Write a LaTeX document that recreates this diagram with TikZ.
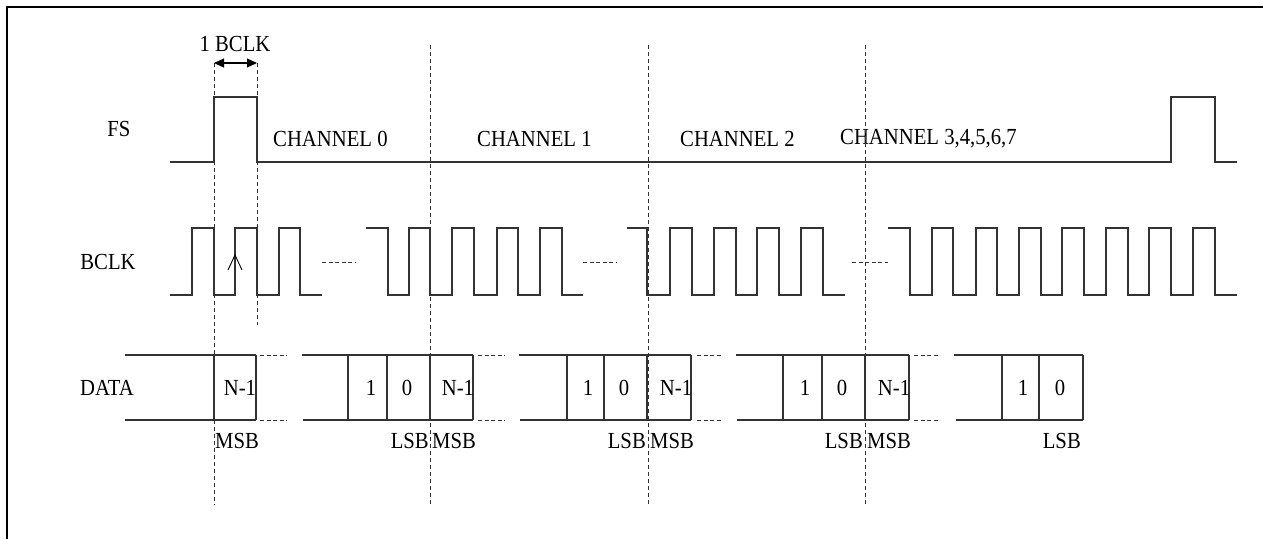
\documentclass[tikz,border=0pt]{standalone}
\usepackage{fontspec}
\setmainfont{Liberation Serif}[FakeStretch=0.9]
\usetikzlibrary{arrows.meta}
\begin{document}
\begin{tikzpicture}[x=1pt,y=-1pt,
  sig/.style={line width=1.1pt,draw=black!80},
  guide/.style={line width=0.9pt,draw=black!80,dash pattern=on 4pt off 3pt},
  gap/.style={line width=0.9pt,draw=black!80,dash pattern=on 4pt off 2.5pt},
  lbl/.style={inner sep=0pt,font=\fontsize{23}{27}\selectfont},
  frame/.style={line width=2pt,draw=black},
  tip/.style={Triangle[length=11pt,width=10pt]}]
\useasboundingbox (0,0) rectangle (1263,539);
% frame
\draw[frame] (1263,6.5) -- (6.5,6.5) -- (6.5,539);

% row labels
\node[lbl] (fsl) at (119,129) {FS};
\node[lbl] (bclkl) at (108,262) {BCLK};
\node[lbl] (datal) at (107,388) {DATA};

% FS waveform
\draw[sig] (170,162) -- (214,162) -- (214,97) -- (257,97) -- (257,162) -- (1171,162) -- (1171,97) -- (1215,97) -- (1215,162) -- (1237,162);

% channel labels
\node[lbl,anchor=west] (ch0) at (273,139) {CHANNEL 0};
\node[lbl,anchor=west] (ch1) at (477,139) {CHANNEL 1};
\node[lbl,anchor=west] (ch2) at (680,139) {CHANNEL 2};
\node[lbl,anchor=west] (ch3) at (840,139) {CHANNEL 3,4,5,6,7};

% 1 BCLK
\coordinate (ba) at (214,63);
\coordinate (bb) at (257,63);
\draw[line width=1.1pt,{Triangle[length=10pt,width=9pt]}-{Triangle[length=10pt,width=9pt]}] (ba) -- (bb);
\node[lbl] (onebclk) at (235,44) {1 BCLK};

% BCLK waveform
\def\H{228}\def\L{295}
\draw[sig] (170,\L) -| (192,\H) -| (214,\L) -| (235,\H) -| (257,\L) -| (279,\H) -| (300,\L) -- (322,\L);
\draw[sig] (366,\H) -| (388,\L) -| (409,\H) -| (430,\L) -| (452,\H) -| (474,\L) -| (497,\H) -| (518,\L) -| (540,\H) -| (562,\L) -- (583,\L);
\draw[sig] (627,\H) -| (647,\L) -| (670,\H) -| (692,\L) -| (714,\H) -| (736,\L) -| (757,\H) -| (779,\L) -| (801,\H) -| (823,\L) -- (845,\L);
\draw[sig] (888,\H) -| (910,\L) -| (932,\H) -| (953,\L) -| (976,\H) -| (997,\L) -| (1019,\H) -| (1041,\L) -| (1062,\H) -| (1084,\L) -| (1106,\H) -| (1128,\L) -| (1149,\H) -| (1171,\L) -| (1193,\H) -| (1215,\L) -- (1237,\L);
\draw[gap] (322,262) -- (355,262);
\draw[gap] (583,262) -- (616,262);
\draw[gap] (852,262) -- (888,262);
% rising-edge mark
\draw[line width=0.9pt] (228,270) -- (235,255) -- (242,270);

% DATA
\def\T{355}\def\B{420}
% block 1
\draw[sig] (125,\T) -- (256,\T) (125,\B) -- (256,\B) (214,\T) -- (214,\B) (256,\T) -- (256,\B);
\node[lbl] (n1a) at (240,388) {N-1};
\draw[gap] (260,\T) -- (287,\T) (260,\B) -- (287,\B);
% block 2
\draw[sig] (302,\T) -- (430,\T) (303,\B) -- (430,\B) (348,\T) -- (348,\B) (387,\T) -- (387,\B) (430,\T) -- (430,\B);
\node[lbl] (b1a) at (371,388) {1};
\node[lbl] (b0a) at (407,388) {0};
% block 3
\draw[sig] (430,\T) -- (473,\T) (430,\B) -- (473,\B) (473,\T) -- (473,\B);
\node[lbl] (n1b) at (458,388) {N-1};
\draw[gap] (478,\T) -- (505,\T) (478,\B) -- (505,\B);
% block 4
\draw[sig] (519,\T) -- (647,\T) (520,\B) -- (647,\B) (567,\T) -- (567,\B) (604,\T) -- (604,\B) (647,\T) -- (647,\B);
\node[lbl] (b1b) at (588,388) {1};
\node[lbl] (b0b) at (624,388) {0};
% block 5
\draw[sig] (647,\T) -- (691,\T) (647,\B) -- (691,\B) (691,\T) -- (691,\B);
\node[lbl] (n1c) at (676,388) {N-1};
\draw[gap] (697,\T) -- (722,\T) (697,\B) -- (722,\B);
% block 6
\draw[sig] (736,\T) -- (865,\T) (737,\B) -- (865,\B) (783,\T) -- (783,\B) (822,\T) -- (822,\B) (865,\T) -- (865,\B);
\node[lbl] (b1c) at (805,388) {1};
\node[lbl] (b0c) at (842,388) {0};
% block 7
\draw[sig] (865,\T) -- (909,\T) (865,\B) -- (909,\B) (909,\T) -- (909,\B);
\node[lbl] (n1d) at (894,388) {N-1};
\draw[gap] (914,\T) -- (940,\T) (914,\B) -- (940,\B);
% block 8
\draw[sig] (954,\T) -- (1083,\T) (956,\B) -- (1083,\B) (1002,\T) -- (1002,\B) (1039,\T) -- (1039,\B) (1083,\T) -- (1083,\B);
\node[lbl] (b1d) at (1023,388) {1};
\node[lbl] (b0d) at (1060,388) {0};

% MSB / LSB
\node[lbl,anchor=west] (msb1) at (215,441) {MSB};
\node[lbl,anchor=east] (lsb1) at (429,441) {LSB};
\node[lbl,anchor=west] (msb2) at (432,441) {MSB};
\node[lbl,anchor=east] (lsb2) at (646,441) {LSB};
\node[lbl,anchor=west] (msb3) at (650,441) {MSB};
\node[lbl,anchor=east] (lsb3) at (863,441) {LSB};
\node[lbl,anchor=west] (msb4) at (867,441) {MSB};
\node[lbl,anchor=east] (lsb4) at (1081,441) {LSB};

% dashed guides
\draw[guide] (214,63) -- (214,505);
\draw[guide] (257,63) -- (257,325);
\draw[guide] (430,45) -- (430,505);
\draw[guide] (648,45) -- (648,505);
\draw[guide] (865,45) -- (865,505);
\end{tikzpicture}
\end{document}
